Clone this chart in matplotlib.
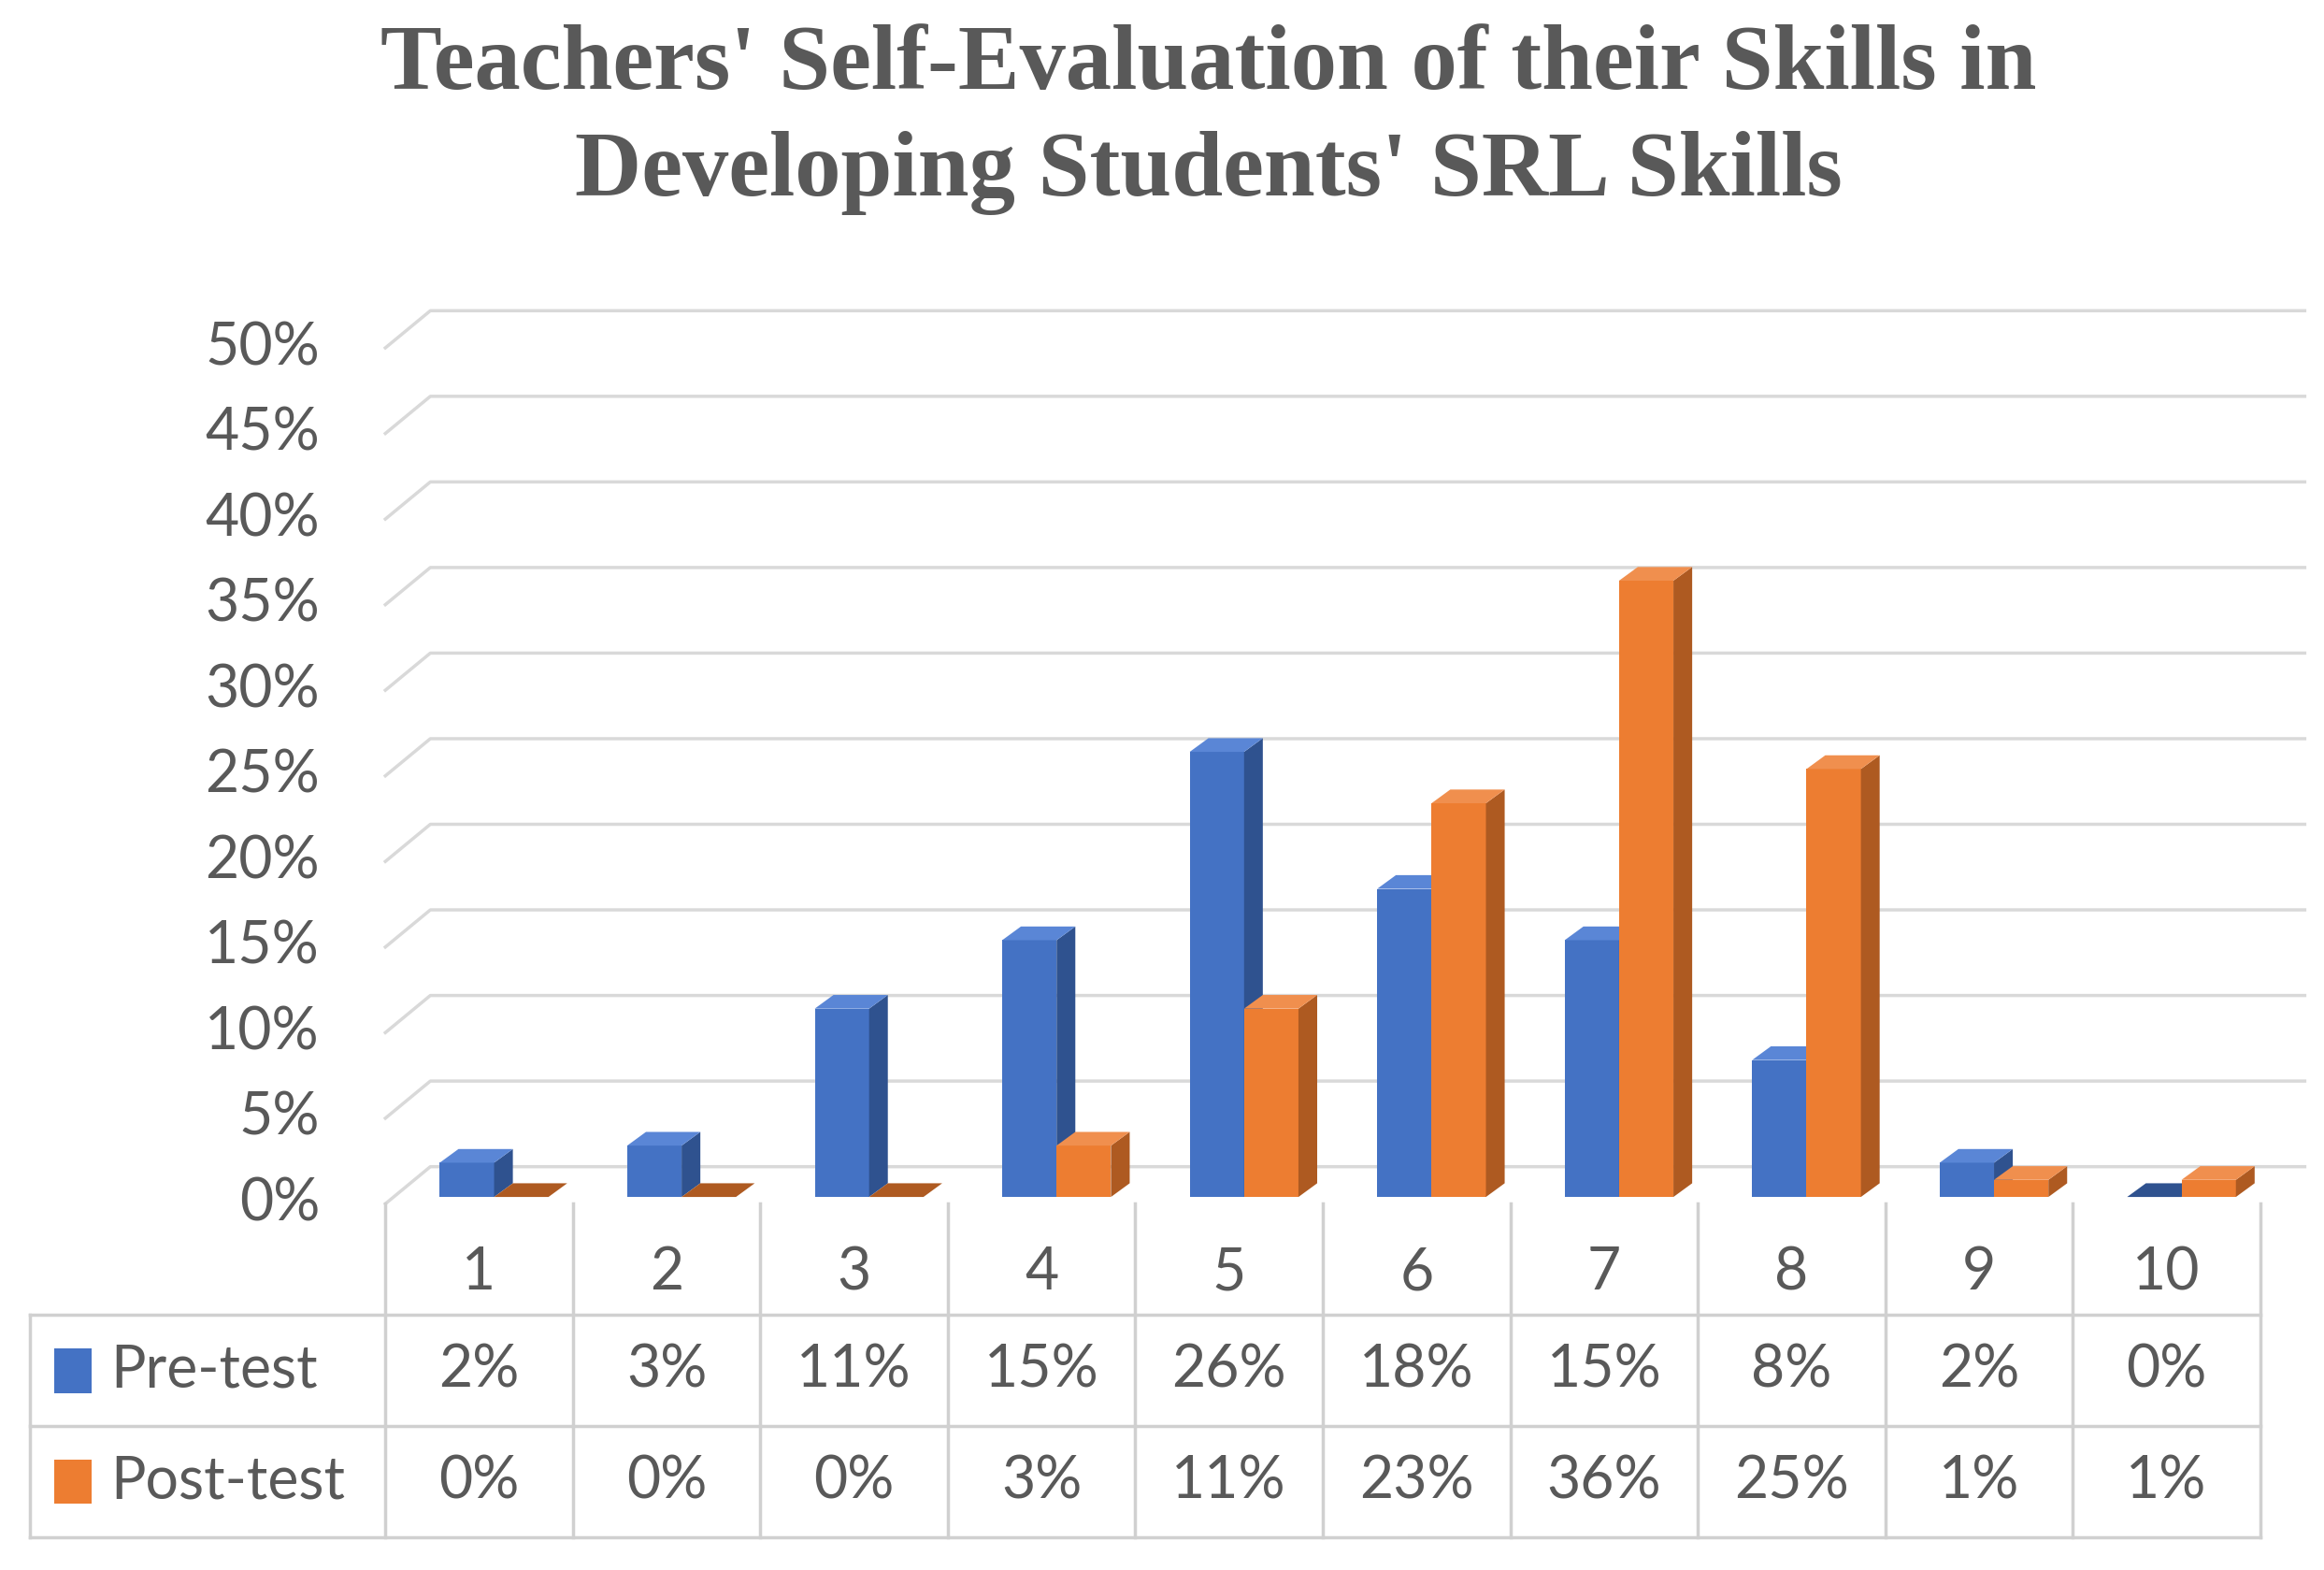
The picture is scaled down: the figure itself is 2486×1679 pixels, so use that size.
import matplotlib
matplotlib.use("Agg")
import matplotlib.pyplot as plt
from matplotlib.patches import Polygon, Rectangle

categories = ["1", "2", "3", "4", "5", "6", "7", "8", "9", "10"]
pre = [2, 3, 11, 15, 26, 18, 15, 8, 2, 0]
post = [0, 0, 0, 3, 11, 23, 36, 25, 1, 1]
series = ["Pre-test", "Post-test"]
yticks = [0, 5, 10, 15, 20, 25, 30, 35, 40, 45, 50]

W, H = 1568, 1059
fig = plt.figure(figsize=(24.86, 16.79), dpi=100)
gray = "#595959"
grid = "#d9d9d9"
font = "Lato"
fs = 45

fig.text(0.52, 1 - 45 / H, "Teachers' Self-Evaluation of their Skills in", ha="center", va="center",
         family="Liberation Serif", weight="bold", fontsize=71, color=gray)
fig.text(0.52, 1 - 117 / H, "Developing Students' SRL Skills", ha="center", va="center",
         family="Liberation Serif", weight="bold", fontsize=71, color=gray)

ax = fig.add_axes([260 / W, (H - 812) / H, (1555 - 260) / W, (812 - 200) / H])
ax.set_xlim(0, 1295 / 126.5)
ax.set_ylim(0, 53.0)
ax.axis("off")
dx, dy = 0.24, 2.17
xmax = 1295 / 126.5
for v in yticks:
    ax.plot([0, dx, xmax], [v, v + dy, v + dy], color=grid, lw=2.5, clip_on=False, zorder=0)
    ax.text(-0.35, v, f"{v}%", ha="right", va="center", fontsize=fs, color=gray, family=font)

cols = [("#4472C4", "#2F528F", "#5A86D6"), ("#ED7D31", "#AE5A21", "#F08F4E")]
bw, sdx, sdy, base = 0.29, 0.1, 0.8, 0.4
for i in range(len(categories)):
    for s, vals in enumerate([pre, post]):
        v = vals[i]
        x0 = i + 0.29 + s * bw
        front, side, top = cols[s]
        ax.add_patch(Rectangle((x0, base), bw, v, facecolor=front, edgecolor="none", zorder=2))
        ax.add_patch(Polygon([(x0 + bw, base), (x0 + bw + sdx, base + sdy), (x0 + bw + sdx, base + v + sdy),
                              (x0 + bw, base + v)], facecolor=side, edgecolor="none", zorder=2))
        ax.add_patch(Polygon([(x0, base + v), (x0 + bw, base + v), (x0 + bw + sdx, base + v + sdy),
                              (x0 + sdx, base + v + sdy)], facecolor=side if v == 0 else top,
                             edgecolor="none", zorder=2))

# data table
tx0 = -240 / 126.5
tab = fig.add_axes([20 / W, (H - 1037) / H, (1525 - 20) / W, (1037 - 812) / H])
tab.set_xlim(tx0, 10)
tab.set_ylim(3, 0)
tab.axis("off")
lc = "#d0d0d0"
for k in range(11):
    tab.plot([k, k], [0, 3], color=lc, lw=2.5, clip_on=False)
tab.plot([tx0, tx0], [1, 3], color=lc, lw=2.5, clip_on=False)
for r in [1, 2, 3]:
    tab.plot([tx0, 10], [r, r], color=lc, lw=2.5, clip_on=False)
for i, c in enumerate(categories):
    tab.text(i + 0.5, 0.62, c, ha="center", va="center", fontsize=fs, color=gray, family=font)
    tab.text(i + 0.5, 1.5, f"{pre[i]}%", ha="center", va="center", fontsize=fs, color=gray, family=font)
    tab.text(i + 0.5, 2.5, f"{post[i]}%", ha="center", va="center", fontsize=fs, color=gray, family=font)
for r, (name, c) in enumerate(zip(series, [cols[0][0], cols[1][0]])):
    tab.add_patch(Rectangle((tx0 + 0.13, r + 1.3), 0.2, 0.4, facecolor=c, edgecolor="none"))
    tab.text(tx0 + 0.43, r + 1.5, name, ha="left", va="center", fontsize=fs, color=gray, family=font)

fig.savefig("out.png", dpi=100)
